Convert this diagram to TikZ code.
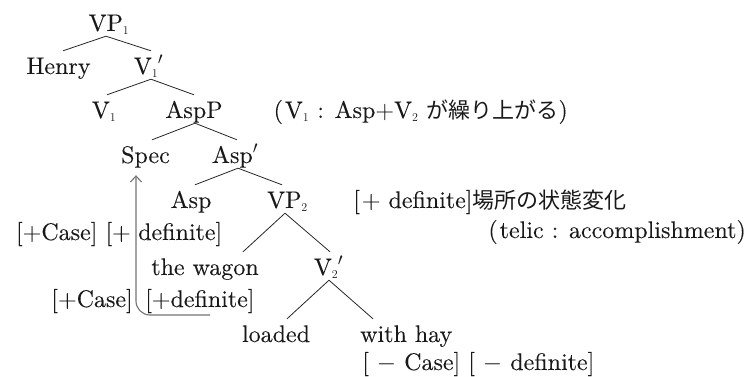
\documentclass[tikz,border=0pt]{standalone}
\usepackage{fontspec}
\setmainfont{lmroman10-regular.otf}[FakeBold=0.1]
\newfontfamily\cjk{Noto Sans CJK JP}
\usetikzlibrary{arrows.meta,calc}
\newcommand\subn[1]{$_{\scriptscriptstyle #1}$}
\newcommand\jp[1]{{\cjk\fontsize{22}{26}\selectfont #1}}
\begin{document}
\begin{tikzpicture}[x=1pt,y=-1pt,
  lbl/.style={inner sep=0pt, font=\fontsize{24}{28}\selectfont, text=black!90},
  tn/.style={lbl, text height=20pt, text depth=2pt, inner ysep=3pt, anchor=base},
  branch/.style={draw=black!85, line width=0.8pt},
  move/.style={draw=black!55, line width=1.1pt, rounded corners=14pt, -{Straight Barb[length=6pt,width=11pt]}}
]
\useasboundingbox (0,0) rectangle (749,377);

\node[tn] (vp1) at (109,31) {VP\subn1};
\node[tn] (henry) at (58.5,74) {Henry};
\node[tn] (v1bar) at (148.5,74) {V\subn1\kern-0.5pt$'$};
\node[tn] (v1) at (104,118) {V\subn1};
\node[tn] (aspp) at (194,118) {AspP};
\node[lbl, anchor=base east] (raise) at (568,118) {(\kern2pt V\subn1 : Asp+V\subn2 \jp{が繰り上がる})};
\node[tn] (spec) at (145.5,163) {Spec};
\node[tn] (aspbar) at (235,163) {Asp$'$};
\node[tn] (asp) at (191,208) {Asp};
\node[tn] (vp2) at (287.5,208) {VP\subn2};
\node[lbl, anchor=base west] (state) at (353,208) {[\kern2pt+ definite]\jp{場所の状態変化}};
\node[lbl, anchor=base east] (caseA) at (131,240) {[+Case] [+};
\node[lbl, anchor=base west] (defA) at (138,240) {definite]};
\node[lbl, anchor=base east] (telic) at (746,238) {(\kern2pt telic : accomplishment)};
\node[tn] (wagon) at (205,275) {the wagon};
\node[tn] (v2bar) at (328.5,275) {V\subn2\kern-0.5pt$'$};
\node[lbl, anchor=base east] (caseB) at (133,307) {[+Case]};
\node[lbl, anchor=base west] (defB) at (145,307) {[+definite]};
\node[tn] (loaded) at (276,342) {loaded};
\node[tn, anchor=base west] (hay) at (360,342) {with hay};
\node[lbl, anchor=base west] (minus) at (362,370) {[ $-$ Case] [ $-$ definite]};

\draw[branch] ($(vp1.south)+(-3,0)$) -- ($(henry.north)+(4.5,0)$);
\draw[branch] ($(vp1.south)+(-3,0)$) -- ($(v1bar.north)+(2.5,0)$);
\draw[branch] ($(v1bar.south)+(2.5,0)$) -- ($(v1.north)+(3,0)$);
\draw[branch] ($(v1bar.south)+(2.5,0)$) -- (aspp.north);
\draw[branch] ($(aspp.south)+(1,0)$) -- ($(spec.north)+(6.5,0)$);
\draw[branch] ($(aspp.south)+(1,0)$) -- ($(aspbar.north)+(2,0)$);
\draw[branch] ($(aspbar.south)+(3,0)$) -- ($(asp.north)+(4,0)$);
\draw[branch] ($(aspbar.south)+(3,0)$) -- ($(vp2.north)+(-5.5,0)$);
\draw[branch] ($(vp2.south)+(-2.5,0)$) -- ($(wagon.north)+(38,0)$);
\draw[branch] ($(vp2.south)+(-2.5,0)$) -- ($(v2bar.north)+(1.5,0)$);
\draw[branch] ($(v2bar.south)+(0.5,0)$) -- ($(loaded.north)+(11,0)$);
\draw[branch] ($(v2bar.south)+(0.5,0)$) -- ($(hay.north west)+(13,0)$);

\coordinate (tail) at (210,315);
\draw[move] (tail) -| ($(spec.south)+(-9.5,7)$);
\end{tikzpicture}
\end{document}
